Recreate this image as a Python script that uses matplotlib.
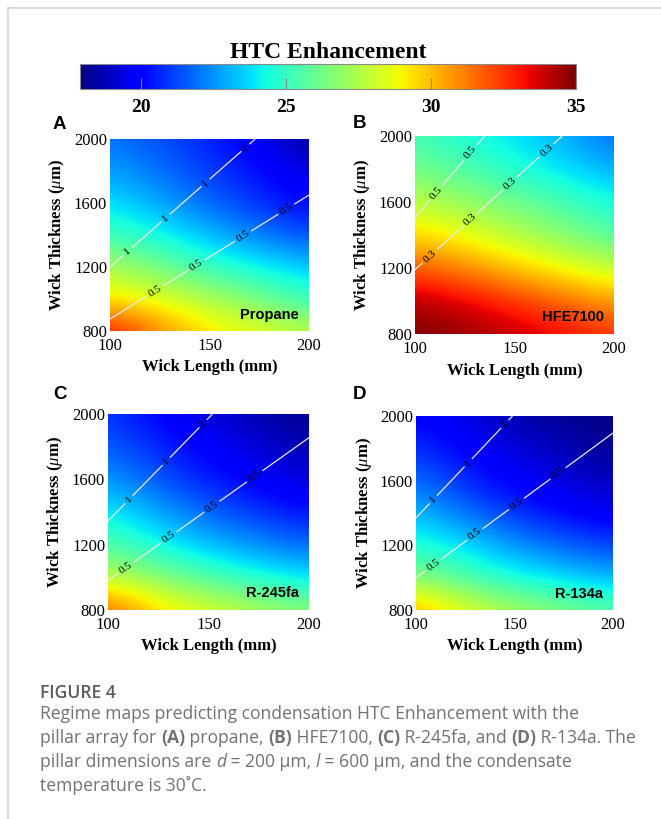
import numpy as np
import matplotlib
matplotlib.use("Agg")
import matplotlib.pyplot as plt
from matplotlib.colors import Normalize
from matplotlib.cm import ScalarMappable
from matplotlib.lines import Line2D

plt.rcParams['font.family'] = ['Liberation Serif', 'DejaVu Serif']
plt.rcParams['mathtext.fontset'] = 'custom'
plt.rcParams['mathtext.rm'] = 'Liberation Serif'
plt.rcParams['mathtext.it'] = 'Liberation Serif:italic'
plt.rcParams['mathtext.bf'] = 'Liberation Serif:bold'

W, H = 661, 819

# grid the maps were read on
length_mm = [100, 125, 150, 175, 200]
thickness_um = [800, 1000, 1200, 1400, 1600, 1800, 2000]

# HTC enhancement, rows = thickness (800 -> 2000), cols = length (100 -> 200)
htc_propane = [
    [33.4, 31.0, 29.4, 28.6, 27.8],
    [29.2, 28.5, 27.5, 26.4, 24.9],
    [27.5, 26.3, 25.0, 24.2, 23.4],
    [25.2, 24.3, 23.2, 22.2, 21.3],
    [23.9, 22.8, 21.8, 20.8, 20.0],
    [22.8, 22.0, 21.0, 20.3, 19.3],
    [22.0, 21.3, 20.6, 19.6, 18.3],
]
htc_hfe7100 = [
    [35.0, 34.7, 34.0, 33.3, 32.6],
    [34.3, 33.5, 32.6, 31.6, 30.5],
    [31.8, 31.0, 29.8, 28.8, 27.9],
    [29.6, 28.7, 27.7, 26.7, 25.5],
    [27.8, 27.0, 26.2, 25.3, 24.3],
    [26.3, 25.5, 24.6, 23.8, 23.0],
    [25.3, 24.5, 23.8, 23.0, 21.8],
]
htc_r245fa = [
    [32.0, 29.6, 28.5, 27.6, 26.8],
    [27.8, 26.6, 25.5, 24.5, 23.8],
    [25.6, 24.3, 23.2, 22.4, 21.7],
    [24.1, 22.8, 21.7, 20.9, 20.2],
    [22.6, 21.5, 20.4, 19.8, 19.2],
    [21.7, 20.6, 19.9, 19.2, 18.6],
    [20.9, 20.0, 19.2, 18.6, 18.1],
]
htc_r134a = [
    [30.6, 28.7, 27.5, 26.6, 25.8],
    [26.6, 25.4, 24.3, 23.7, 23.0],
    [24.7, 23.8, 22.6, 21.7, 21.1],
    [23.2, 22.0, 20.8, 20.1, 19.5],
    [22.0, 20.6, 19.9, 19.3, 18.8],
    [20.8, 20.0, 19.3, 18.7, 18.2],
    [20.0, 19.4, 18.6, 18.2, 17.9],
]

# contour lines (end points) and where their labels sit along length
propane_lines = {"1": ([100, 173], [1200, 2000]), "0.5": ([100, 200], [875, 1650])}
propane_label_x = {"1": [109, 128, 148, 168], "0.5": [122.6, 143.5, 166.9, 188.6]}
hfe7100_lines = {"0.5": ([100, 135], [1505, 2000]), "0.3": ([100, 174], [1190, 2000])}
hfe7100_label_x = {"0.5": [110.7, 127.9], "0.3": [107.4, 127.5, 147.6, 166.1]}
r245fa_lines = {"1": ([100, 152], [1345, 2000]), "0.5": ([100, 200], [980, 1855])}
r245fa_label_x = {"1": [110.4, 129, 147.3], "0.5": [108.8, 130.3, 151.6, 173]}
r134a_lines = {"1": ([100, 149], [1370, 2000]), "0.5": ([100, 200], [1000, 1895])}
r134a_label_x = {"1": [108.8, 126.5, 145.1], "0.5": [108.8, 129.9, 151, 172.1]}

cbar_ticks = [20, 25, 30, 35]
htc_min, htc_max = 17.9, 35
x_ticks = [100, 150, 200]
y_ticks = [800, 1200, 1600, 2000]

fig = plt.figure(figsize=(W / 100, H / 100), dpi=100)
renderer = fig.canvas.get_renderer()


def px_axes(left, top, right, bottom):
    return fig.add_axes([left / W, 1 - bottom / H, (right - left) / W, (bottom - top) / H])


def draw_level(ax, xs, ys, text, label_x):
    p0 = ax.transData.transform((xs[0], ys[0]))
    p1 = ax.transData.transform((xs[1], ys[1]))
    d = p1 - p0
    length = np.hypot(d[0], d[1])
    angle = np.degrees(np.arctan2(d[1], d[0]))
    cuts = [0.0]
    for lx in sorted(label_x):
        t = (lx - xs[0]) / (xs[1] - xs[0])
        x = xs[0] + t * (xs[1] - xs[0])
        y = ys[0] + t * (ys[1] - ys[0])
        ax.text(x, y, text, rotation=angle, rotation_mode='anchor',
                ha='center', va='center', fontsize=8, color='black', zorder=4)
        # unrotated text width for the gap in the line
        probe = fig.text(0, 0, text, fontsize=8)
        w = probe.get_window_extent(renderer).width
        probe.remove()
        half = (w / 2 + 2.5) / length
        cuts += [t - half, t + half]
    cuts.append(1.0)
    for a, b in zip(cuts[0::2], cuts[1::2]):
        ax.plot([xs[0] + a * (xs[1] - xs[0]), xs[0] + b * (xs[1] - xs[0])],
                [ys[0] + a * (ys[1] - ys[0]), ys[0] + b * (ys[1] - ys[0])],
                color='#e8e8e8', lw=0.9, zorder=3, solid_capstyle='butt')


panels = [
    ("A", "Propane", htc_propane, propane_lines, propane_label_x, (110, 139, 309, 331), (53, 129)),
    ("B", "HFE7100", htc_hfe7100, hfe7100_lines, hfe7100_label_x, (415, 136, 614, 334), (353, 128)),
    ("C", "R-245fa", htc_r245fa, r245fa_lines, r245fa_label_x, (108, 414, 309, 610), (53, 399)),
    ("D", "R-134a", htc_r134a, r134a_lines, r134a_label_x, (416, 416, 613, 610), (353, 399)),
]

norm = Normalize(htc_min, htc_max)
dx = (length_mm[1] - length_mm[0]) / 2
dy = (thickness_um[1] - thickness_um[0]) / 2

for letter, fluid, htc, lines, label_x, box, letter_pos in panels:
    ax = px_axes(*box)
    ax.imshow(np.array(htc), cmap='jet', norm=norm, origin='lower', aspect='auto',
              interpolation='bicubic', interpolation_stage='data',
              extent=[length_mm[0] - dx, length_mm[-1] + dx,
                      thickness_um[0] - dy, thickness_um[-1] + dy])
    ax.set_xlim(100, 200)
    ax.set_ylim(800, 2000)
    ax.set_xticks(x_ticks)
    ax.set_yticks(y_ticks)
    ax.tick_params(length=0, labelsize=12)
    ax.tick_params(axis='x', pad=5)
    ax.tick_params(axis='y', pad=2)
    for s in ax.spines.values():
        s.set_visible(False)
    ax.set_xlabel("Wick Length (mm)", fontsize=12, fontweight='bold')
    ax.set_ylabel(r"Wick Thickness ($\mu$m)", fontsize=12, fontweight='bold')
    ax.xaxis.set_label_coords(0.5, -0.145)
    ax.yaxis.set_label_coords(-0.215, 0.5)
    for lvl, (xs, ys) in lines.items():
        draw_level(ax, xs, ys, lvl, label_x[lvl])
    ax.text(0.95, 0.085, fluid, transform=ax.transAxes, ha='right', va='center',
            fontsize=10.5, fontweight='bold', family='Liberation Sans')
    fig.text(letter_pos[0] / W, 1 - letter_pos[1] / H, letter, ha='left', va='baseline',
             fontsize=13.5, fontweight='bold', family='Liberation Sans')

# colorbar on top
cax = px_axes(80, 64, 576, 89)
cb = fig.colorbar(ScalarMappable(norm=norm, cmap='jet'), cax=cax,
                  orientation='horizontal', ticks=cbar_ticks)
cb.outline.set_edgecolor('#8a8a8a')
cb.outline.set_linewidth(0.8)
cax.tick_params(direction='in', length=8, width=0.8, color='#8a8a8a', labelsize=14, pad=7)
for t in cax.get_xticklabels():
    t.set_fontweight('bold')
fig.text(328 / W, 1 - 58 / H, "HTC Enhancement", ha='center', va='baseline',
         fontsize=17, fontweight='bold')

# page border
fig.add_artist(Line2D([8 / W, 8 / W], [0, 1 - 8 / H], color='#d4d4d4', lw=1.2))
fig.add_artist(Line2D([8 / W, 1], [1 - 8 / H, 1 - 8 / H], color='#d4d4d4', lw=1.2))

# caption
cap_font = ['Open Sans', 'DejaVu Sans']
cap_color = '#727272'
n, b = 'normal', 'bold'
caption_lines = [
    (719, [("Regime maps predicting condensation HTC Enhancement with the", n, 'normal')]),
    (743, [("pillar array for ", n, 'normal'), ("(A)", b, 'normal'), (" propane, ", n, 'normal'),
           ("(B)", b, 'normal'), (" HFE7100, ", n, 'normal'), ("(C)", b, 'normal'),
           (" R-245fa, and ", n, 'normal'), ("(D)", b, 'normal'), (" R-134a. The", n, 'normal')]),
    (767, [("pillar dimensions are ", n, 'normal'), ("d", n, 'italic'),
           (" = 200 \u03bcm, ", n, 'normal'), ("l", n, 'italic'),
           (" = 600 \u03bcm, and the condensate", n, 'normal')]),
    (791, [("temperature is 30\u02daC.", n, 'normal')]),
]


def rich_line(x, y, runs, size, draw=True):
    x0 = x
    for txt, weight, style in runs:
        t = fig.text(x / W, 1 - y / H, txt, ha='left', va='baseline', family=cap_font,
                     fontsize=size, fontweight=weight, fontstyle=style, color=cap_color)
        x += t.get_window_extent(renderer).width
        if not draw:
            t.remove()
    return x - x0


# fit caption size so the second line spans like in the page layout
probe_w = rich_line(40, 743, caption_lines[1][1], 11, draw=False)
cap_size = 11 * 597 / probe_w

fig.text(40 / W, 1 - 698 / H, "FIGURE 4", ha='left', va='baseline', family=cap_font,
         fontsize=cap_size, fontweight='semibold', color='#5c5c5c')
for y, runs in caption_lines:
    rich_line(40, y, runs, cap_size)

fig.savefig("out.png", dpi=100)
